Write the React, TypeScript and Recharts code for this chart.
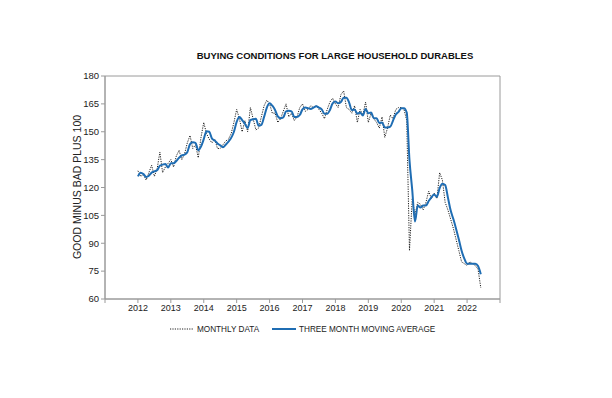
import { LineChart, Line, XAxis, YAxis, ReferenceArea } from 'recharts';

// monthly series, Jan 2012 .. Jun 2022
const START_YEAR = 2012;

const monthlyData = [
  129, 126, 127, 124, 128, 132, 126, 130, 139, 128, 131, 133,
  135, 131, 137, 140, 135, 138, 144, 148, 141, 143, 136, 147,
  155, 149, 146, 144, 146, 141, 141, 143, 145, 146, 149, 155,
  162, 157, 150, 156, 150, 163, 157, 151, 152, 158, 164, 167,
  165, 160, 160, 155, 157, 161, 165, 158, 160, 156, 158, 163,
  165, 161, 162, 164, 163, 164, 162, 160, 157, 162, 166, 168,
  165, 163, 170, 172, 163, 162, 160, 164, 155, 162, 159, 166,
  155, 160, 157, 155, 152, 158, 147, 152, 159, 157, 162, 163,
  163, 162, 156, 86, 114, 105, 112, 111, 108, 112, 118, 114,
  117, 114, 128, 124, 112, 108, 103, 98, 92, 86, 80, 79,
  78, 80, 79, 78, 76, 66,
];

const movingAverage = [
  126, 128, 127.3, 125.7, 126.3, 128, 128.7, 129.3, 131.7, 132.3, 132.7, 130.7,
  133, 133, 134.3, 136, 137.3, 137.7, 139, 143.3, 144.3, 144, 140, 142,
  146, 150.3, 150, 146.3, 145.3, 143.7, 142.7, 141.7, 143, 144.7, 146.7, 150,
  155.3, 158, 156.3, 154.3, 152, 156.3, 156.7, 157, 153.3, 153.7, 158, 163,
  165.3, 164, 161.7, 158.3, 157.3, 157.7, 161, 161.3, 161, 158, 158, 159,
  162, 163, 162.7, 162.3, 163, 163.7, 163, 162, 159.7, 159.7, 161.7, 165.3,
  166.3, 165.3, 166, 168.3, 168.3, 165.7, 161.7, 162, 159.7, 160.3, 158.7, 162.3,
  160, 160.3, 157.3, 157.3, 154.7, 155, 152.3, 152.3, 152.7, 156, 159.3, 160.7,
  162.7, 162.7, 160.3, 134.7, 118.7, 101.7, 110.3, 109.3, 110.3, 110.3, 112.7, 114.7,
  116.3, 115, 119.7, 122, 121.3, 114.7, 107.7, 103, 97.7, 92, 86, 81.7,
  79, 79, 79, 79, 77.7, 73.3,
];

const yearTicks = [2011, 2012, 2013, 2014, 2015, 2016, 2017, 2018, 2019, 2020, 2021, 2022, 2023];
const valueTicks = [60, 75, 90, 105, 120, 135, 150, 165, 180];

const chartData = monthlyData.map((v, i) => ({
  t: START_YEAR + i / 12,
  monthly: v,
  avg: movingAverage[i],
}));

const BLUE = '#1f6db3';
const FONT = 'Arial, "Liberation Sans", sans-serif';

const App = () => {
  return (
    <div
      style={{
        position: 'absolute',
        left: 0,
        top: 0,
        width: 612,
        height: 398,
        background: '#fff',
        fontFamily: FONT,
      }}
    >
      <div
        style={{
          position: 'absolute',
          left: 0,
          width: 670,
          top: 50,
          textAlign: 'center',
          fontSize: 9.5,
          fontWeight: 'bold',
          color: '#111',
        }}
      >
        BUYING CONDITIONS FOR LARGE HOUSEHOLD DURABLES
      </div>

      <div
        style={{
          position: 'absolute',
          left: 77,
          top: 187,
          transform: 'translate(-50%, -50%) rotate(-90deg)',
          whiteSpace: 'nowrap',
          fontSize: 10.5,
          color: '#222',
        }}
      >
        GOOD MINUS BAD PLUS 100
      </div>

      <LineChart
        width={612}
        height={398}
        data={chartData}
        margin={{ top: 76, right: 112, left: 65, bottom: 79 }}
        style={{ position: 'absolute', left: 0, top: 0 }}
      >
        <ReferenceArea
          x1={2011}
          x2={2023}
          y1={60}
          y2={180}
          fill="none"
          stroke="#9a9a9a"
          strokeWidth={1}
          ifOverflow="visible"
        />
        <XAxis
          dataKey="t"
          type="number"
          domain={[2011, 2023]}
          ticks={yearTicks}
          tickFormatter={(v: number) => (v === 2011 || v === 2023 ? '' : String(v))}
          height={20}
          tickSize={4}
          stroke="#9a9a9a"
          tick={{ fontSize: 9, fill: '#222', fontFamily: FONT }}
          interval={0}
        />
        <YAxis
          type="number"
          domain={[60, 180]}
          ticks={valueTicks}
          width={40}
          tickSize={4}
          stroke="#9a9a9a"
          tick={{ fontSize: 9.5, fill: '#222', fontFamily: FONT }}
          interval={0}
        />
        <Line
          dataKey="monthly"
          type="linear"
          stroke="#222"
          strokeWidth={1}
          strokeDasharray="1.2 1.2"
          dot={false}
          isAnimationActive={false}
        />
        <Line
          dataKey="avg"
          type="monotone"
          stroke={BLUE}
          strokeWidth={2}
          dot={false}
          isAnimationActive={false}
        />
      </LineChart>

      <svg
        width={612}
        height={20}
        style={{ position: 'absolute', left: 0, top: 319 }}
      >
        <line x1={170} x2={194} y1={10} y2={10} stroke="#222" strokeWidth={1} strokeDasharray="1.2 1.2" />
        <text x={197} y={13} fontSize={8.2} fill="#222" fontFamily={FONT}>
          MONTHLY DATA
        </text>
        <line x1={272} x2={296} y1={10} y2={10} stroke={BLUE} strokeWidth={2} />
        <text x={299} y={13} fontSize={8.2} fill="#222" fontFamily={FONT}>
          THREE MONTH MOVING AVERAGE
        </text>
      </svg>
    </div>
  );
};

export default App;
